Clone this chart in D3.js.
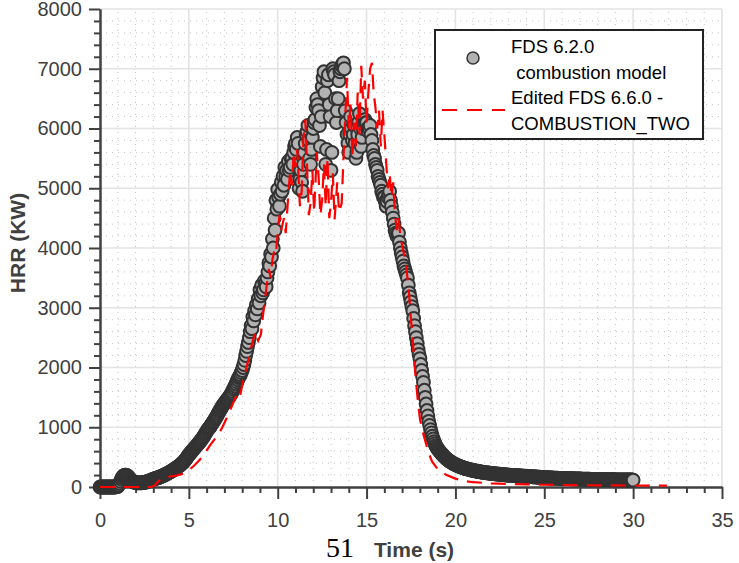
<!DOCTYPE html>
<html>
<head>
<meta charset="utf-8">
<script src="https://cdn.jsdelivr.net/npm/d3@7"></script>
<style>
    body { margin: 0; background: #fff; }
    svg { display: block; font-family: "Liberation Sans", Arial, sans-serif; }
</style>
</head>
<body>
<div class="chart-container"></div>
<script>
// Axis ticks.
const xMajorTicks = [0, 5, 10, 15, 20, 25, 30, 35];
const yMajorTicks = [0, 1000, 2000, 3000, 4000, 5000, 6000, 7000, 8000];
const xMinorStep = 1;
const yMinorStep = 200;

// FDS 6.2.0 combustion model, HRR (kW), one value every 0.05 s from t = 0 (one row per second).
const FDS620_DT = 0.05;
const fds620Hrr = [
    0, 0, 0, 0, 0, 0, 0, 0, 0, 0, 0, 0, 0, 0, 0, 0, 0, 0, 3, 5,
    10, 30, 60, 95, 130, 158, 180, 192, 200, 200, 195, 185, 170, 150, 130, 115, 100, 92, 85, 80,
    75, 72, 70, 69, 68, 69, 70, 71, 72, 75, 78, 81, 85, 90, 95, 100, 105, 112, 118, 124,
    130, 135, 140, 145, 150, 155, 160, 166, 172, 178, 185, 191, 198, 205, 212, 220, 228, 236, 245, 253,
    262, 271, 280, 290, 300, 310, 320, 331, 342, 353, 365, 377, 390, 405, 420, 437, 455, 475, 495, 518,
    540, 558, 575, 592, 610, 628, 645, 662, 680, 698, 715, 732, 750, 770, 790, 810, 830, 855, 880, 905,
    930, 952, 975, 992, 1010, 1035, 1060, 1080, 1100, 1125, 1150, 1175, 1200, 1230, 1260, 1285, 1310, 1335, 1360, 1380,
    1400, 1420, 1440, 1460, 1480, 1500, 1520, 1545, 1570, 1600, 1630, 1660, 1690, 1725, 1760, 1795, 1830, 1855, 1880, 1915,
    1950, 2000, 2050, 2120, 2200, 2270, 2350, 2420, 2500, 2600, 2700, 2650, 2850, 2780, 2950, 2880, 3050, 2980, 3150, 3080,
    3300, 3200, 3380, 3250, 3300, 3450, 3400, 3350, 3500, 3600, 3750, 3700, 3900, 3850, 4150, 4000, 4500, 4300, 4800, 4650,
    4980, 4850, 4700, 4900, 5100, 4950, 5200, 5050, 5350, 5200, 5300, 5150, 5450, 5300, 5350, 5500, 5500, 5400, 5600, 5700,
    5750, 5650, 5850, 5750, 5000, 5150, 5300, 5100, 4950, 5400, 5600, 5750, 5900, 5950, 6050, 5800, 5500, 5400, 5650, 5850,
    6000, 6100, 6150, 6350, 6500, 6400, 6300, 6050, 5700, 6200, 6700, 6850, 6950, 6600, 5400, 5650, 6800, 6900, 6400, 6200,
    5300, 5600, 7000, 6950, 6900, 6500, 6100, 6300, 6500, 6800, 6950, 7000, 7050, 7080, 7100, 7000, 6300, 6100, 5900, 5750,
    5600, 5900, 6200, 6000, 5800, 5900, 6050, 5750, 5500, 5600, 5900, 6100, 6250, 6000, 5700, 5850, 6000, 6100, 6150, 6100,
    6100, 6000, 5950, 6000, 6050, 5900, 5800, 5650, 5550, 5500, 5400, 5350, 5300, 5200, 5150, 5100, 5050, 4950, 4900, 4850,
    4850, 4780, 4700, 4780, 4850, 4900, 4950, 4800, 4700, 4600, 4500, 4400, 4300, 4250, 4200, 4230, 4250, 4100, 4000, 3920,
    3850, 3780, 3700, 3650, 3600, 3550, 3500, 3380, 3250, 3180, 3100, 3020, 2950, 2820, 2700, 2600, 2500, 2400, 2300, 2220,
    2150, 2050, 1950, 1850, 1750, 1620, 1500, 1390, 1280, 1190, 1100, 1030, 960, 905, 850, 805, 760, 725, 690, 665,
    640, 620, 600, 582, 565, 548, 530, 515, 500, 486, 472, 460, 448, 437, 427, 417, 408, 399, 391, 383,
    376, 369, 362, 355, 349, 343, 337, 331, 326, 321, 316, 311, 307, 303, 299, 295, 291, 287, 284, 280,
    277, 274, 271, 268, 265, 262, 259, 256, 254, 251, 249, 246, 244, 242, 240, 238, 236, 234, 232, 230,
    228, 226, 225, 223, 222, 220, 219, 217, 216, 214, 213, 211, 210, 208, 207, 205, 204, 202, 201, 199,
    198, 197, 196, 195, 194, 193, 192, 191, 190, 189, 188, 187, 186, 185, 184, 183, 182, 181, 180, 179,
    178, 177, 176, 175, 174, 173, 172, 171, 170, 169, 168, 167, 166, 165, 164, 163, 162, 161, 160, 159,
    158, 157, 156, 156, 155, 154, 153, 152, 152, 151, 150, 150, 149, 148, 147, 147, 146, 145, 145, 144,
    144, 143, 143, 142, 142, 141, 141, 140, 140, 139, 139, 138, 138, 137, 137, 136, 136, 135, 135, 134,
    134, 134, 133, 133, 132, 132, 131, 131, 130, 130, 130, 130, 129, 129, 128, 128, 127, 127, 127, 127,
    126, 126, 125, 125, 125, 125, 124, 124, 123, 123, 123, 123, 122, 122, 122, 122, 121, 121, 121, 121,
    120, 120, 120, 120, 119, 119, 119, 119, 118, 118, 118, 118, 118, 118, 117, 117, 117, 117, 117, 117,
    116
];

// Edited FDS 6.6.0 - COMBUSTION_TWO, [time (s), HRR (kW)].
const fds660Hrr = [
    [0, 0], [1, 0], [2, 0], [2.9, 0], [3.1, 30], [3.3, 100], [3.5, 150], [3.8, 170],
    [4.2, 185], [4.6, 215], [5.0, 280], [5.3, 360], [5.6, 450], [5.9, 570], [6.2, 700],
    [6.5, 820], [6.8, 950], [7.0, 1070], [7.3, 1270], [7.6, 1480], [7.75, 1540], [7.85, 1480],
    [8.0, 1700], [8.2, 1950], [8.4, 2200], [8.6, 2450], [8.75, 2600], [8.9, 2450], [9.05, 2550],
    [9.2, 2950], [9.35, 3300], [9.5, 3650], [9.6, 3500], [9.7, 3800], [9.8, 3950], [9.9, 3900],
    [10.0, 4250], [10.1, 4550], [10.2, 4300], [10.35, 4500], [10.45, 4250], [10.6, 4900],
    [10.7, 5300], [10.8, 5050], [10.9, 5600], [11.0, 5350], [11.1, 5650], [11.25, 4700],
    [11.35, 4950], [11.45, 5850], [11.55, 6150], [11.65, 5400], [11.75, 4550], [11.85, 4750],
    [11.95, 5300], [12.05, 4600], [12.2, 5600], [12.3, 5200], [12.4, 4550], [12.5, 4800],
    [12.6, 5400], [12.7, 4700], [12.8, 5500], [12.9, 4500], [13.0, 4750], [13.1, 5250],
    [13.2, 4480], [13.35, 5100], [13.45, 4600], [13.6, 4750], [13.7, 5500], [13.8, 6200],
    [13.9, 6850], [14.0, 6000], [14.1, 6400], [14.2, 5500], [14.3, 6100], [14.4, 5700],
    [14.5, 6600], [14.6, 5900], [14.7, 7050], [14.8, 6500], [14.9, 6800], [15.0, 6100],
    [15.1, 6600], [15.2, 7000], [15.3, 7100], [15.4, 6600], [15.5, 6350], [15.6, 6000],
    [15.7, 6300], [15.8, 5700], [15.9, 6300], [16.0, 5900], [16.1, 5450], [16.2, 5000],
    [16.3, 5250], [16.4, 4850], [16.5, 5100], [16.6, 4550], [16.7, 4300], [16.8, 4500],
    [16.9, 4200], [17.0, 4050], [17.1, 3900], [17.2, 3750], [17.3, 3500], [17.4, 3200],
    [17.5, 2800], [17.6, 2450], [17.7, 2050], [17.8, 1700], [17.9, 1400], [18.0, 1150],
    [18.1, 1000], [18.2, 880], [18.35, 720], [18.5, 560], [18.7, 420], [19.0, 300],
    [19.5, 200], [20.0, 140], [20.5, 100], [21.0, 80], [22.0, 62], [23.0, 52], [24.0, 44],
    [25.0, 38], [26.0, 33], [27.0, 30], [28.0, 28], [29.0, 26], [30.0, 25], [31.0, 24], [31.9, 24]
];

const legendLabels = ['FDS 6.2.0', ' combustion model', 'Edited FDS 6.6.0 -', 'COMBUSTION_TWO'];

const svg = d3
    .select('.chart-container')
    .append('svg')
    .attr('width', 739)
    .attr('height', 563);

function baseDimension() {
    const margin = {top: 9, right: 17, bottom: 76, left: 100};
    return {
        margin: margin,
        width: 739 - margin.left - margin.right,
        height: 563 - margin.top - margin.bottom
    };
}

const area = baseDimension();

const xScale = d3.scaleLinear()
    .domain([0, 35])
    .range([area.margin.left, area.margin.left + area.width]);

const yScale = d3.scaleLinear()
    .domain([0, 8000])
    .range([area.margin.top + area.height, area.margin.top]);

const xMinorTicks = d3.range(0, 35 + xMinorStep, xMinorStep).filter(d => d % 5 !== 0);
const yMinorTicks = d3.range(0, 8000 + yMinorStep, yMinorStep).filter(d => d % 1000 !== 0);

drawGrid();
drawAxes();
drawCircles();
drawLine();
drawLabels();
drawLegend();

function drawGrid() {
    const grid = svg.append('g').attr('class', 'grid');
    const x0 = xScale.range()[0], x1 = xScale.range()[1];
    const y0 = yScale.range()[0], y1 = yScale.range()[1];

    // minor dotted grid
    grid.selectAll('.vminor').data(xMinorTicks).enter().append('line')
        .attr('x1', d => xScale(d)).attr('x2', d => xScale(d))
        .attr('y1', y0).attr('y2', y1)
        .attr('stroke', '#c4c4c4').attr('stroke-width', 1)
        .attr('stroke-dasharray', '1,5');
    grid.selectAll('.hminor').data(yMinorTicks).enter().append('line')
        .attr('x1', x0).attr('x2', x1)
        .attr('y1', d => yScale(d)).attr('y2', d => yScale(d))
        .attr('stroke', '#c4c4c4').attr('stroke-width', 1)
        .attr('stroke-dasharray', '1,5');

    // major grid
    grid.selectAll('.vmajor').data(xMajorTicks.slice(1)).enter().append('line')
        .attr('x1', d => xScale(d)).attr('x2', d => xScale(d))
        .attr('y1', y0).attr('y2', y1)
        .attr('stroke', '#e3e3e3').attr('stroke-width', 1.6);
    grid.selectAll('.hmajor').data(yMajorTicks.slice(1)).enter().append('line')
        .attr('x1', x0).attr('x2', x1)
        .attr('y1', d => yScale(d)).attr('y2', d => yScale(d))
        .attr('stroke', '#e3e3e3').attr('stroke-width', 1.6);
}

function styleAxis(g) {
    g.selectAll('path, line').attr('stroke', '#404040').attr('stroke-width', 2);
    g.selectAll('text')
        .attr('fill', '#404040')
        .style('font-size', '20px')
        .style('font-family', '"Liberation Sans", Arial, sans-serif');
}

function drawAxes() {
    const bottom = yScale(0);
    const left = xScale(0);

    svg.append('g')
        .attr('transform', `translate(0, ${bottom})`)
        .call(d3.axisBottom(xScale).tickValues(xMinorTicks).tickSize(6).tickFormat('').tickSizeOuter(0))
        .call(styleAxis);
    svg.append('g')
        .attr('transform', `translate(0, ${bottom})`)
        .call(d3.axisBottom(xScale).tickValues(xMajorTicks).tickSize(12).tickPadding(14).tickSizeOuter(0))
        .call(styleAxis);

    svg.append('g')
        .attr('transform', `translate(${left}, 0)`)
        .call(d3.axisLeft(yScale).tickValues(yMinorTicks).tickSize(6).tickFormat('').tickSizeOuter(0))
        .call(styleAxis);
    svg.append('g')
        .attr('transform', `translate(${left}, 0)`)
        .call(d3.axisLeft(yScale).tickValues(yMajorTicks).tickSize(11).tickPadding(7)
            .tickFormat(d3.format('d')).tickSizeOuter(0))
        .call(styleAxis);
}

function drawCircles() {
    svg.append('g')
        .selectAll('.pt')
        .data(fds620Hrr)
        .enter()
        .append('circle')
        .attr('class', 'pt')
        .attr('cx', (d, i) => xScale(i * FDS620_DT))
        .attr('cy', d => yScale(d))
        .attr('r', 6.4)
        .attr('fill', '#b2b2b2')
        .attr('stroke', '#333')
        .attr('stroke-width', 2);
}

function drawLine() {
    const line = d3.line()
        .x(d => xScale(d[0]))
        .y(d => yScale(d[1]));

    svg.append('path')
        .datum(fds660Hrr)
        .attr('d', line)
        .attr('fill', 'none')
        .attr('stroke', '#ff0000')
        .attr('stroke-width', 2.2)
        .attr('stroke-dasharray', '15,9');
}

function drawLabels() {
    svg.append('text')
        .attr('transform', 'translate(25, 243) rotate(-90)')
        .attr('text-anchor', 'middle')
        .attr('fill', '#404040')
        .style('font-weight', 'bold')
        .style('font-size', '21px')
        .text('HRR (KW)');

    svg.append('text')
        .attr('x', 414)
        .attr('y', 557)
        .attr('text-anchor', 'middle')
        .attr('fill', '#404040')
        .style('font-weight', 'bold')
        .style('font-size', '21px')
        .text('Time (s)');

    svg.append('text')
        .attr('x', 326)
        .attr('y', 557)
        .attr('fill', '#000')
        .style('font-family', '"Liberation Serif", "Times New Roman", serif')
        .style('font-size', '28px')
        .text('51');
}

function drawLegend() {
    const legend = svg.append('g').attr('class', 'legend');

    legend.append('rect')
        .attr('x', 435).attr('y', 30)
        .attr('width', 268).attr('height', 109)
        .attr('fill', '#fff')
        .attr('stroke', '#222')
        .attr('stroke-width', 2);

    legend.append('circle')
        .attr('cx', 473).attr('cy', 58).attr('r', 6)
        .attr('fill', '#b2b2b2').attr('stroke', '#333').attr('stroke-width', 1.5);

    legend.append('line')
        .attr('x1', 442).attr('x2', 505)
        .attr('y1', 110).attr('y2', 110)
        .attr('stroke', '#ff0000').attr('stroke-width', 2.2)
        .attr('stroke-dasharray', '15,10');

    const baselines = [53, 79, 104, 130];
    legend.selectAll('.ltext')
        .data(legendLabels)
        .enter()
        .append('text')
        .attr('x', 511)
        .attr('y', (d, i) => baselines[i])
        .attr('xml:space', 'preserve')
        .style('white-space', 'pre')
        .style('font-size', '18.5px')
        .attr('fill', '#000')
        .text(d => d);
}
</script>
</body>
</html>
